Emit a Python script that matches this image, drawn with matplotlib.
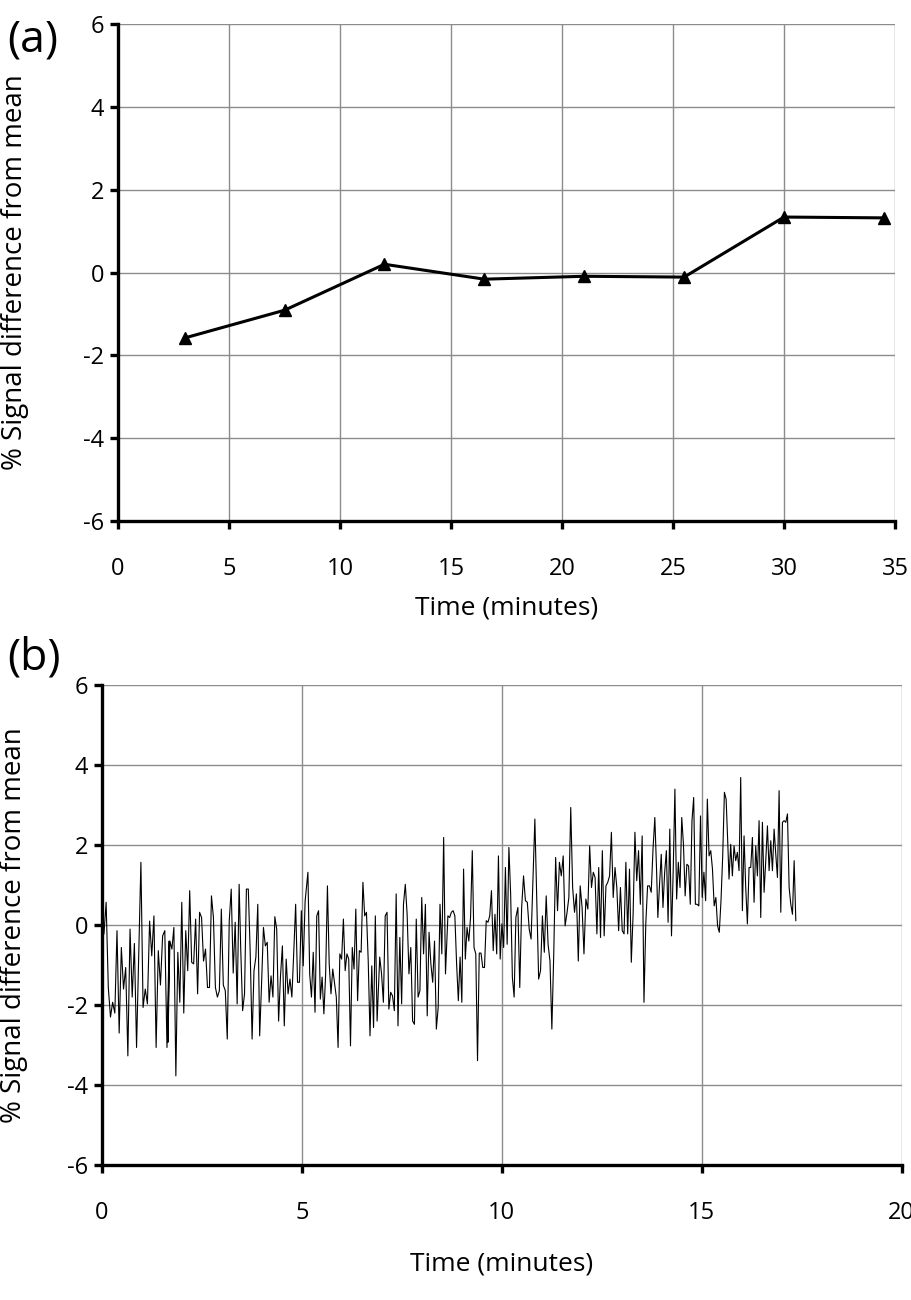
import numpy as np
import matplotlib.pyplot as plt

# panel (a): averaged signal difference
time_a = [3, 7.5, 12, 16.5, 21, 25.5, 30, 34.5]
signal_a = [-1.58, -0.91, 0.20, -0.16, -0.09, -0.11, 1.34, 1.32]

seg_start = [0.05, 1.65, 3.47, 5.15, 6.90, 8.65, 10.40, 12.15, 13.90, 15.68]
seg_end = [1.68, 3.43, 5.08, 6.88, 8.59, 10.35, 12.10, 13.87, 15.65, 17.35]
seg_values = [
    [-0.22, 0.57, -1.56, -2.30, -1.93, -2.20, -0.14, -2.70, -0.56, -1.60, -1.06, -3.27, -0.10, -1.80,
     -0.46, -3.06, -0.72, 1.57, -2.06, -1.60, -1.97, 0.10, -0.77, 0.23, -3.06, -0.64, -1.50, -0.27,
     -0.14, -3.06, -0.40],
    [-2.93, -0.40, -0.60, -0.06, -3.77, -0.68, -1.93, 0.57, -2.20, -0.14, -1.14, 0.86, -0.93, -0.97,
     0.15, -1.72, 0.32, 0.19, -0.90, -0.60, -1.56, -1.56, 0.73, 0.19, -1.56, -1.80, -1.64, 0.40,
     -1.50, -1.64, -2.85, 0.10, 0.90, -1.20, 0.07, -1.97, 1.02],
    [-0.60, -2.14, -1.72, 0.90, 0.90, -0.68, -2.85, -1.14, -0.80, 0.52, -2.77, -1.47, -0.06, -0.52,
     -0.43, -1.93, -1.27, -1.80, 0.21, -0.10, -2.40, -1.27, -0.52, -2.52, -0.85, -1.72, -1.35, -1.80,
     -0.68, 0.52, -1.43, -1.43, 0.36, -1.02, 0.60],
    [1.32, -1.22, -1.80, -0.68, -2.18, 0.23, 0.36, -1.85, -1.30, -2.22, -1.22, 0.98, -0.97, -1.72,
     -1.10, -1.45, -1.80, -3.06, -0.72, -0.85, 0.15, -1.14, -0.72, -0.85, -3.02, -0.56, -1.10, 0.40,
     -1.89, -0.64, -0.68, 1.07, 0.23, 0.32, -0.90, -2.77, -1.02, -2.56, 0.23, -2.40],
    [-1.93, -0.80, -1.22, -1.93, 0.23, 0.32, -2.10, -1.68, -1.77, -2.14, 0.78, -2.52, -0.31, -1.97,
     0.52, 1.02, 0.27, -1.22, -0.56, -2.40, -2.48, 0.15, -1.80, -1.64, 0.69, -0.72, 0.52, -2.27,
     -0.18, -0.97, -1.43, -0.40, -2.60, -2.06, 0.52, -0.72, 2.19, -1.22],
    [0.23, 0.19, 0.32, 0.36, 0.23, -0.97, -1.89, -0.80, -1.93, 1.40, -0.85, -0.06, -0.40, 0.19,
     1.86, -0.56, -0.72, -3.39, -0.70, -0.70, -1.06, -1.06, 0.11, 0.07, 0.23, 0.86, -0.64, 0.27,
     -0.72, 1.73, -0.85, 0.03, -0.56, 1.44, -0.48, 1.94, 0.78, -1.31, -1.80, 0.19],
    [0.44, -1.56, 0.44, 1.23, 0.61, 0.57, -0.10, -0.35, 1.19, 2.65, 0.61, -1.35, -1.14, 0.23,
     -0.68, 0.73, -0.48, -0.90, -2.60, -0.72, 1.69, 0.36, 1.57, 1.23, 1.73, -0.02, 0.30, 0.69,
     2.94, 0.94, 0.32, 0.78, -0.90, 0.98, 0.44, -0.72, 0.65],
    [0.40, 1.98, 0.94, 1.32, 1.19, -0.22, 1.44, -0.31, 1.86, -0.27, 0.98, 1.07, 1.23, 2.32,
     0.69, 1.44, 0.94, -0.14, 0.94, -0.14, -0.22, 1.57, -0.22, 1.40, -0.93, 0.27, 2.32, 1.11,
     1.86, 0.52, 2.23, -1.93, 0.03, 0.98, 0.98, 0.82, 1.90, 2.69, 1.32],
    [0.19, 1.02, 1.77, 0.44, 1.32, 1.86, 0.07, 2.40, -0.27, 1.36, 3.40, 0.65, 1.57, 0.94, 2.69,
     2.02, 0.73, 1.52, 1.48, 0.52, 2.61, 3.19, 0.52, 0.52, 0.48, 2.73, 0.69, 1.32, 0.61,
     3.15, 1.73, 1.86, 1.40, 0.48, 0.69, -0.02, -0.18, 0.61, 1.73, 3.32, 3.15, 2.02],
    [1.15, 2.02, 1.23, 1.98, 1.61, 1.82, 1.36, 3.69, 0.36, 2.23, 0.94, 0.03, 1.44, 1.44, 2.19,
     0.57, 1.98, 1.23, 2.61, 0.19, 2.57, 0.82, 1.61, 2.48, 1.36, 2.11, 1.36, 2.40, 1.77,
     1.19, 3.36, 0.32, 2.57, 2.61, 2.57, 2.78, 0.94, 0.52, 0.27, 1.61, 0.11],
]

time_b = np.concatenate([np.linspace(t0, t1, len(v)) for t0, t1, v in zip(seg_start, seg_end, seg_values)])
signal_b = np.concatenate(seg_values)

ylabel = "% Signal difference from mean"
xlabel = "Time (minutes)"

plt.rcParams['font.family'] = ['Open Sans', 'DejaVu Sans']
plt.rcParams['axes.unicode_minus'] = False

fig = plt.figure(figsize=(9.12, 13), dpi=100)
ax_a = fig.add_axes([0.1294, 0.5992, 0.852, 0.3823])
ax_b = fig.add_axes([0.1118, 0.1038, 0.877, 0.3692])


def style_axes(ax, xmax, xstep):
    ax.set_xlim(0, xmax)
    ax.set_ylim(-6, 6)
    ax.set_xticks(np.arange(0, xmax + 0.1, xstep))
    ax.set_yticks(np.arange(-6, 7, 2))
    ax.grid(True, color='#8c8c8c', linewidth=1.0)
    ax.set_axisbelow(True)
    for side in ['top', 'right']:
        ax.spines[side].set_visible(False)
    for side in ['left', 'bottom']:
        ax.spines[side].set_linewidth(2.4)
    ax.tick_params(direction='out', length=6, width=2.4, labelsize=17)
    ax.tick_params(axis='x', pad=20)
    ax.tick_params(axis='y', pad=4)
    ax.set_ylabel(ylabel, fontsize=20)
    ax.set_xlabel(xlabel, fontsize=19, labelpad=10)


ax_a.plot(time_a, signal_a, color='black', linewidth=2.2, marker='^', markersize=9, clip_on=False)
style_axes(ax_a, 35, 5)
ax_a.yaxis.set_label_coords(-0.115, 0.5)

ax_b.plot(time_b, signal_b, color='black', linewidth=0.8)
style_axes(ax_b, 20, 5)
ax_b.xaxis.labelpad = 19
ax_b.yaxis.set_label_coords(-0.092, 0.5)

fig.text(0.008, 0.969, "(a)", fontsize=32, va='center')
fig.text(0.008, 0.494, "(b)", fontsize=32, va='center')

fig.savefig("out.png", dpi=100)
